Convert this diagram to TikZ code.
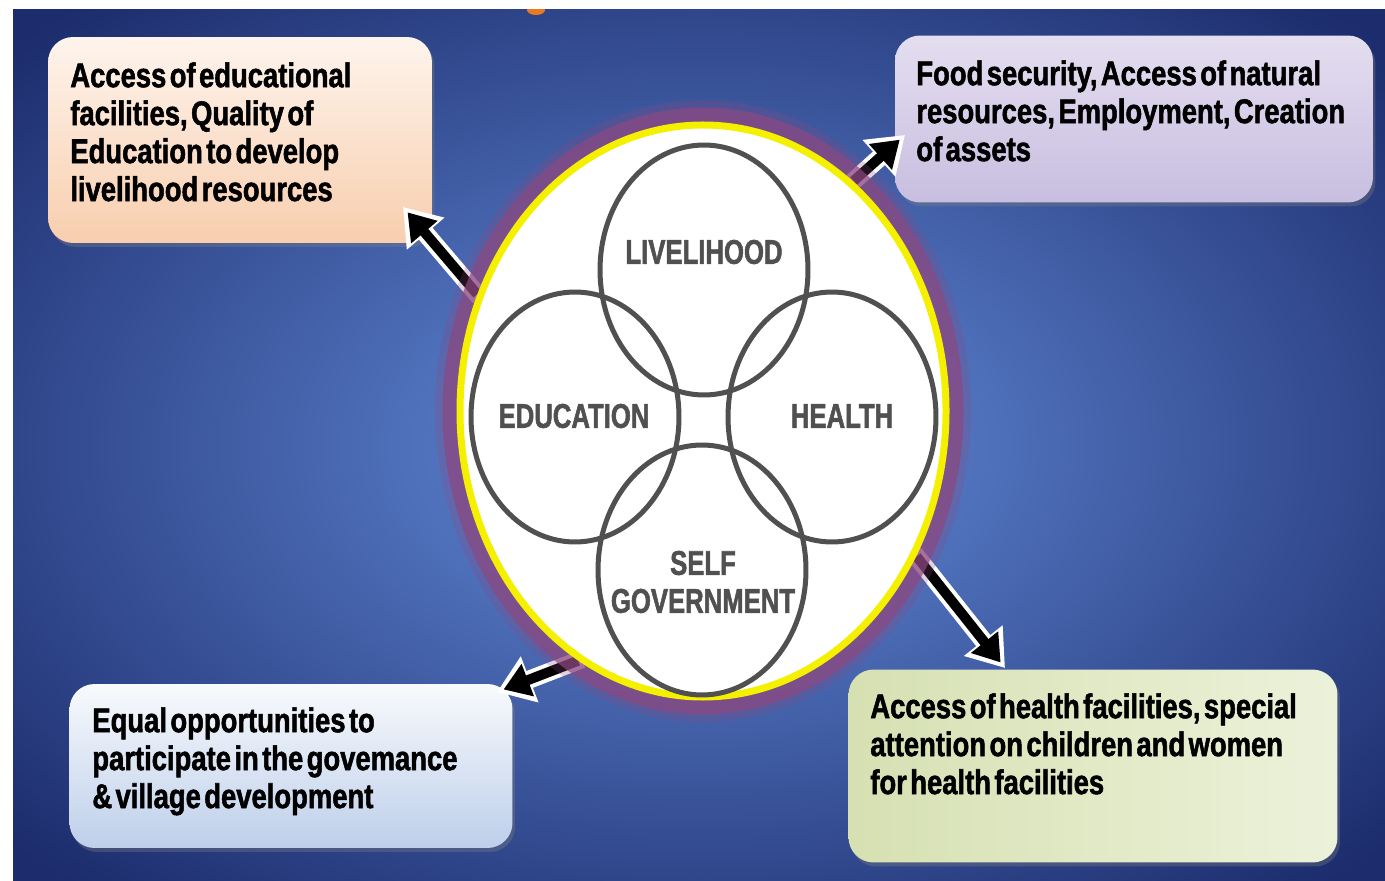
\documentclass[tikz,border=0pt]{standalone}
\usepackage{fontspec}
\usetikzlibrary{arrows.meta,shapes.geometric,shadows}

\newfontfamily\boxfont{Liberation Sans}[FakeStretch=0.8,WordSpace=0.45,FakeBold=1.5]
\newfontfamily\vennfont{Liberation Sans}[FakeStretch=0.75,WordSpace=0.45,FakeBold=1.5]

\definecolor{bglight}{RGB}{86,122,198}
\definecolor{bgdark}{RGB}{28,44,108}
\definecolor{glowcol}{RGB}{140,72,128}
\definecolor{rimcol}{RGB}{245,240,0}
\definecolor{ringcol}{RGB}{80,80,80}
\definecolor{blobcol}{RGB}{232,122,34}
\pgfdeclareradialshading{bgglow}{\pgfpoint{0bp}{0bp}}{color(0bp)=(bglight); color(7bp)=(bglight); color(34bp)=(bgdark); color(50bp)=(bgdark)}

\begin{document}
\begin{tikzpicture}[x=0.02cm, y=-0.02cm,
    infobox/.style={rectangle, rounded corners=5mm, inner sep=0pt,
      drop shadow={opacity=0.35, shadow xshift=0.5mm, shadow yshift=-0.8mm}},
    boxtext/.style={anchor=north west, inner sep=0pt, align=left,
      font=\boxfont\bfseries\fontsize{19.5}{21.6}\selectfont},
    ring/.style={ellipse, draw=ringcol, line width=1mm, minimum width=4.16cm, minimum height=5cm},
    venntext/.style={text=ringcol, align=center, inner sep=0pt,
      font=\vennfont\bfseries\fontsize{19.5}{21.6}\selectfont},
    arrowback/.style={draw=white, line width=3.6mm, -{Triangle[length=7mm,width=9.4mm]}},
    arrowfront/.style={draw=black, line width=2mm, shorten >=1.4mm, shorten <=0.8mm,
      -{Triangle[length=5.2mm,width=6.6mm]}}]

   \useasboundingbox (0,0) rectangle (1385,881);
   \fill[white] (0,0) rectangle (1385,881);
   \shade[shading=bgglow] (13,10) rectangle (1385,881);
   \begin{scope}
     \clip (13,10) rectangle (1385,881);
     \fill[blobcol] (536,10) ellipse [x radius=9, y radius=5];
   \end{scope}

   % outcome boxes
   \node[infobox, top color={rgb,255:red,254;green,244;blue,237}, bottom color={rgb,255:red,248;green,206;blue,174},
     minimum width=7.68cm, minimum height=4.12cm] (edubox) at (240,140) {};
   \node[infobox, top color={rgb,255:red,228;green,222;blue,240}, bottom color={rgb,255:red,200;green,190;blue,224},
     minimum width=9.56cm, minimum height=3.34cm] (livbox) at (1134,119) {};
   \node[infobox, top color={rgb,255:red,248;green,250;blue,253}, bottom color={rgb,255:red,190;green,207;blue,234},
     minimum width=8.86cm, minimum height=3.28cm] (govbox) at (291,766) {};
   \node[infobox, left color={rgb,255:red,214;green,224;blue,178}, right color={rgb,255:red,236;green,242;blue,218},
     minimum width=9.78cm, minimum height=3.86cm] (healthbox) at (1093,766) {};

   \node[boxtext] (edutext) at (70,62) {Access of educational\\facilities, Quality of\\Education to develop\\livelihood resources};
   \node[boxtext] (livtext) at (916,60) {Food security, Access of natural\\resources, Employment, Creation\\of assets};
   \node[boxtext] (govtext) at (92,707) {Equal opportunities to\\participate in the govemance\\\& village development};
   \node[boxtext] (healthtext) at (870,693) {Access of health facilities, special\\attention on children and women\\for health facilities};

   \coordinate (eduhead) at (403,207);
   \coordinate (livhead) at (905,135);
   \coordinate (healthhead) at (1005,668);
   \coordinate (govhead) at (497,692);

   \node[ellipse, minimum width=9.72cm, minimum height=11.44cm, inner sep=0pt] (core) at (703,411) {};

   \draw[arrowback] (core.153) -- (eduhead);
   \draw[arrowfront] (core.153) -- (eduhead);
   \draw[arrowback] (core.57) -- (livhead);
   \draw[arrowfront] (core.57) -- (livhead);
   \draw[arrowback] (core.-34) -- (healthhead);
   \draw[arrowfront] (core.-34) -- (healthhead);
   \draw[arrowback] (core.244) -- (govhead);
   \draw[arrowfront] (core.244) -- (govhead);

   % glow round the centre
   \draw[glowcol, line width=1cm, opacity=0.25] (core.center) ellipse [x radius=243, y radius=286];
   \draw[glowcol, line width=0.7cm, opacity=0.7] (core.center) ellipse [x radius=243, y radius=286];
   \draw[rimcol, fill=white, line width=1.4mm] (core.center) ellipse [x radius=243, y radius=286];

   \node[ring] (livring) at (704,270) {};
   \node[ring] (eduring) at (575,417) {};
   \node[ring] (healthring) at (832,417) {};
   \node[ring] (selfring) at (702,570) {};

   \node[venntext] (livlabel) at (704,252) {LIVELIHOOD};
   \node[venntext] (edulabel) at (574,416) {EDUCATION};
   \node[venntext] (healthlabel) at (842,416) {HEALTH};
   \node[venntext] (selflabel) at (703,582) {SELF\\GOVERNMENT};

\end{tikzpicture}
\end{document}
